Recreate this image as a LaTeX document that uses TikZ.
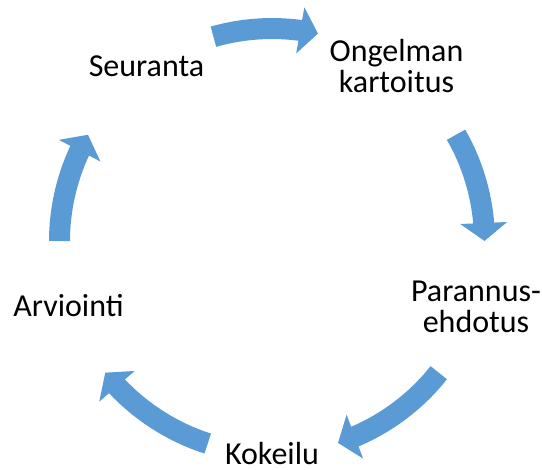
\documentclass[tikz,border=0pt]{standalone}
\usepackage{fontspec}
\setmainfont{Carlito}
\usetikzlibrary{arrows.meta,bending}
\definecolor{kaari}{HTML}{5B9BD5}
\tikzset{
    %Define style for step labels
    vaihe/.style={
           align=center,
           anchor=base,
           inner sep=0pt,
           font=\fontsize{16}{15.5}\selectfont},
    % Define block arrow style
    nuoli/.style={
           -{Triangle[width=23pt,length=9pt]},
           line width=10.5pt,
           draw=kaari,
           looseness=0.86}
}

\begin{document}
\begin{tikzpicture}[x=0.5pt,y=0.5pt]
  \useasboundingbox (0,0) rectangle (543,470);
  \coordinate (keski) at (272,229);
  \node[vaihe] (ongelma) at (396.5,377) {Ongelman\\kartoitus};
  \node[vaihe] (parannus) at (476,137) {Parannus-\\ehdotus};
  \node[vaihe] (kokeilu) at (272,5) {Kokeilu};
  \node[vaihe] (arviointi) at (68.5,153) {Arviointi};
  \node[vaihe] (seuranta) at (146.5,393) {Seuranta};
  % arrows between the steps, on a circle round keski
  \foreach \alku/\loppu in {106/77.5,30/0,-38.3/-71.9,-107.6/-141.7,180/150}{
    \pgfmathsetmacro\taivutus{(\alku-\loppu)/2}
    \coordinate (a) at ([shift={(\alku:212.5)}]keski);
    \coordinate (b) at ([shift={(\loppu:212.5)}]keski);
    \draw[nuoli] (a) to[bend left=\taivutus] (b);
  }
\end{tikzpicture}
\end{document}
